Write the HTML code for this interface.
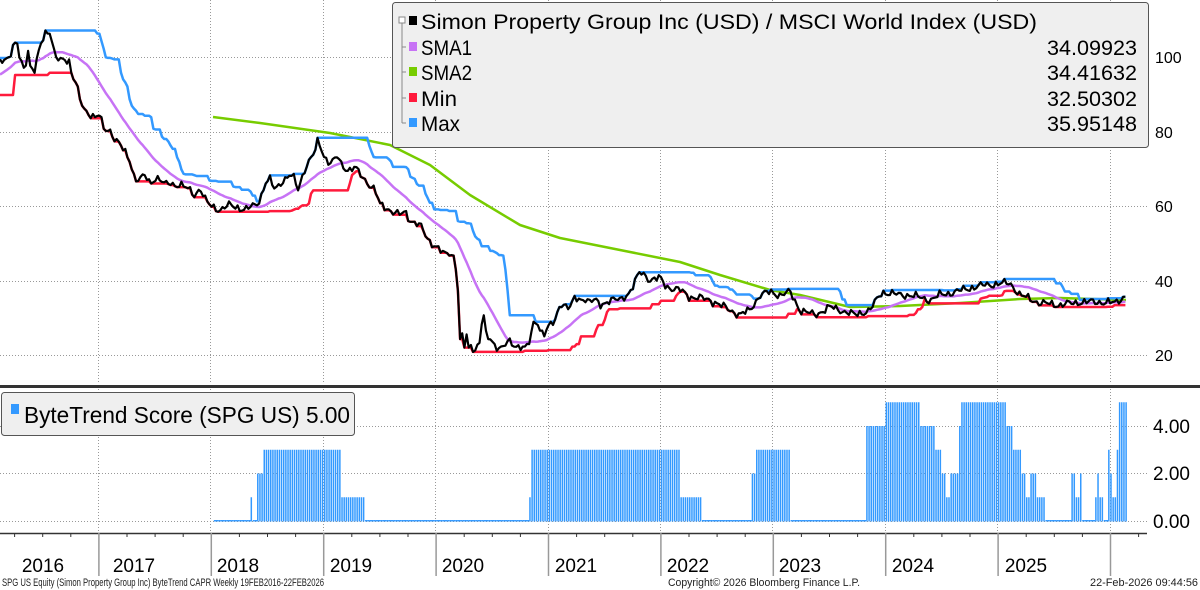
<!DOCTYPE html>
<html><head><meta charset="utf-8">
<style>
html,body{margin:0;padding:0;background:#fff;width:1200px;height:590px;overflow:hidden}
svg{display:block;font-family:"Liberation Sans",sans-serif}
</style></head>
<body>
<svg id="s" width="1200" height="590" viewBox="0 0 1200 590" xmlns="http://www.w3.org/2000/svg">
<g id="grid" stroke="#999" stroke-width="1" stroke-dasharray="1,2"></g>
<g id="bars"></g>
<g id="lines" fill="none" stroke-width="2.5" stroke-linejoin="round"></g>
<rect x="392.5" y="2.5" width="756" height="145" rx="3" fill="#efefef" stroke="#555" stroke-width="1"/>
<path d="M402 20 V123 M402 47 h4 M402 72 h4 M402 98 h4 M402 123 h4" stroke="#888" fill="none"/>
<rect x="399" y="17" width="6" height="6" fill="#fff" stroke="#888"/>
<rect x="409" y="16" width="8" height="9" fill="#000"/>
<rect x="409" y="42" width="8" height="9" fill="#c773f5"/>
<rect x="409" y="67" width="8" height="9" fill="#77cc00"/>
<rect x="409" y="93" width="8" height="9" fill="#ff1a3c"/>
<rect x="409" y="118" width="8" height="9" fill="#3399ff"/>
<g font-size="21" fill="#000">
<text x="421" y="29" textLength="616" lengthAdjust="spacingAndGlyphs">Simon Property Group Inc (USD) / MSCI World Index (USD)</text>
<text x="421" y="55" textLength="51" lengthAdjust="spacingAndGlyphs">SMA1</text>
<text x="421" y="80" textLength="51" lengthAdjust="spacingAndGlyphs">SMA2</text>
<text x="421" y="106" textLength="36" lengthAdjust="spacingAndGlyphs">Min</text>
<text x="421" y="131" textLength="39" lengthAdjust="spacingAndGlyphs">Max</text>
<text x="1137" y="55" text-anchor="end" textLength="90" lengthAdjust="spacingAndGlyphs">34.09923</text>
<text x="1137" y="80" text-anchor="end" textLength="90" lengthAdjust="spacingAndGlyphs">34.41632</text>
<text x="1137" y="106" text-anchor="end" textLength="90" lengthAdjust="spacingAndGlyphs">32.50302</text>
<text x="1137" y="131" text-anchor="end" textLength="90" lengthAdjust="spacingAndGlyphs">35.95148</text>
</g>
<g font-size="16" fill="#000">
<text x="1155" y="63">100</text>
<text x="1155" y="138">80</text>
<text x="1155" y="212">60</text>
<text x="1155" y="287">40</text>
<text x="1155" y="361">20</text>
</g>
<rect x="0" y="385" width="1200" height="3" fill="#333"/>
<rect x="1.5" y="392.5" width="353" height="43" rx="3" fill="#efefef" stroke="#555"/>
<rect x="11" y="404" width="8" height="10" fill="#3399ff"/>
<text x="24" y="423" font-size="23" textLength="326" lengthAdjust="spacingAndGlyphs">ByteTrend Score (SPG US) 5.00</text>
<g font-size="19" fill="#000">
<text x="1153" y="433">4.00</text>
<text x="1153" y="480">2.00</text>
<text x="1153" y="528">0.00</text>
</g>
<line x1="0" y1="533.5" x2="1147" y2="533.5" stroke="#333" stroke-width="1.5"/>
<g id="xax"></g>
<g font-size="19" fill="#000" text-anchor="middle" id="years"></g>
<g font-size="11" fill="#222">
<text x="2" y="586" textLength="322" lengthAdjust="spacingAndGlyphs">SPG US Equity (Simon Property Group Inc) ByteTrend CAPR Weekly 19FEB2016-22FEB2026</text>
<text x="668" y="586" textLength="192" lengthAdjust="spacingAndGlyphs">Copyright© 2026 Bloomberg Finance L.P.</text>
<text x="1198" y="586" text-anchor="end" textLength="108" lengthAdjust="spacingAndGlyphs">22-Feb-2026 09:44:56</text>
</g>
</svg>
<script>
var NS="http://www.w3.org/2000/svg";
function el(p,t,a){var e=document.createElementNS(NS,t);for(var k in a)e.setAttribute(k,a[k]);p.appendChild(e);return e;}
var grid=document.getElementById('grid');
var gx=[98,210,323,435,548,660,772,885,997,1110];
gx.forEach(function(x){el(grid,'line',{x1:x+.5,y1:0,x2:x+.5,y2:383});el(grid,'line',{x1:x+.5,y1:389,x2:x+.5,y2:533});});
[57,132,206,281,355].forEach(function(y){el(grid,'line',{x1:0,y1:y+.5,x2:1147,y2:y+.5});});
[426,473,521].forEach(function(y){el(grid,'line',{x1:0,y1:y+.5,x2:1147,y2:y+.5});});
var xax=document.getElementById('xax');
for(var i=-1;i<44;i++){var x=-14+i*28.1;if(x<0||x>1145)continue;
 var isY=(i%4===0);
 if(isY) el(xax,'line',{x1:x+.5,y1:533,x2:x+.5,y2:576,stroke:'#999','stroke-width':1.5});
 else el(xax,'line',{x1:x+.5,y1:533,x2:x+.5,y2:537,stroke:'#333','stroke-width':1});}
var yrs=document.getElementById('years');
var lx=[43,134,238,351,463,576,688,800,913,1026];
for(var k=0;k<10;k++){var t=el(yrs,'text',{x:lx[k],y:572});t.textContent=2016+k;}
var P=[[0,58],[5,60],[10,57],[15,44],[18,43],[20,60],[25,68],[28,50],[30,68],[35,72],[38,55],[40,45],[45,32],[50,32],[52,42],[55,58],[60,60],[65,58],[70,62],[72,78],[75,80],[80,100],[85,110],[95,118],[100,115],[103,128],[110,130],[115,140],[120,145],[125,152],[130,160],[135,180],[140,180],[145,175],[150,183],[155,178],[160,180],[165,185],[170,182],[175,185],[180,185],[190,190],[195,195],[200,188],[205,200],[210,205],[220,210],[230,205],[240,208],[245,210],[255,205],[260,200],[265,183],[270,180],[275,190],[280,183],[290,175],[295,180],[298,190],[302,177],[305,168],[310,160],[313,155],[315,152],[318,140],[320,145],[325,158],[330,163],[335,160],[338,155],[340,163],[345,168],[350,170],[355,167],[358,172],[365,180],[375,190],[380,205],[390,210],[400,215],[405,212],[410,220],[420,225],[425,235],[430,242],[435,245],[440,250],[445,255],[450,253],[455,258],[458,290],[460,340],[462,335],[464,350],[466,330],[468,352],[470,345],[475,350],[480,340],[483,310],[486,335],[490,340],[495,345],[500,348],[505,345],[510,342],[515,347],[520,345],[525,348],[530,342],[533,325],[537,320],[540,330],[545,333],[550,325],[555,322],[560,303],[565,305],[570,308],[575,298],[580,300],[585,298],[590,302],[595,300],[600,305],[610,300],[620,300],[630,292],[640,272],[645,275],[650,280],[660,278],[665,285],[670,288],[680,290],[690,297],[700,298],[710,300],[720,305],[730,310],[740,315],[750,310],[760,295],[770,292],[780,295],[790,292],[800,310],[815,315],[830,307],[840,310],[855,315],[870,310],[882,292],[900,295],[910,295],[930,300],[940,295],[955,292],[970,288],[985,285],[1010,283],[1020,295],[1040,303],[1060,305],[1080,302],[1100,302],[1115,303],[1125,296]];
function interp(x){for(var i=1;i<P.length;i++){if(x<=P[i][0]){var a=P[i-1],b=P[i];return a[1]+(b[1]-a[1])*(x-a[0])/(b[0]-a[0]);}}return P[P.length-1][1];}
var dx=2.16,N=Math.floor(1126/dx)+1,xs=[],ys=[];
for(var i=0;i<N;i++){var x=i*dx;var n=Math.sin(i*1.7)*2.2+Math.sin(i*0.63+1)*1.6+Math.sin(i*2.9)*1.2;xs.push(x);ys.push(interp(x)+n);}
var W=24,pad=[];for(var i=0;i<W;i++)pad.push(i<8?95:(i%2?75:58));
var all=pad.concat(ys);
var mx=[],mn=[],s1=[];
for(var i=0;i<N;i++){var j=i+W;var lo=1e9,hi=-1e9,sum=0;for(var k=j-W+1;k<=j;k++){lo=Math.min(lo,all[k]);hi=Math.max(hi,all[k]);sum+=all[k];}
 mx.push(lo);mn.push(hi);s1.push(sum/W);}
function pts(arr){return arr.map(function(y,i){return xs[i].toFixed(1)+','+y.toFixed(1);}).join(' ');}
var L=document.getElementById('lines');
var G=[[213,117],[260,123],[330,133],[390,145],[430,165],[470,195],[520,225],[560,238],[620,250],[680,262],[720,275],[770,290],[800,295],[850,307],[900,306],[960,303],[1020,299],[1060,298],[1126,300]];
var gp=G.map(function(p){return p.join(',');}).join(' ');
el(L,'polyline',{points:gp,stroke:'#77cc00'});
el(L,'polyline',{points:pts(s1),stroke:'#c773f5'});
el(L,'polyline',{points:pts(mn),stroke:'#ff1a3c'});
el(L,'polyline',{points:pts(mx),stroke:'#3399ff'});
el(L,'polyline',{points:pts(ys),stroke:'#000','stroke-width':2.2});
var R=[[213,249,0],[249,251,1],[251,256,0],[256,262,2],[262,340,3],[340,363,1],[363,528,0],[528,531,1],[531,545,3],[545,680,3],[680,700,1],[700,750,0],[750,755,2],[755,790,3],[790,866,0],[866,885,4],[885,920,5],[920,935,4],[935,940,3],[940,945,2],[945,950,1],[950,958,2],[958,960,4],[960,1005,5],[1005,1012,4],[1012,1020,3],[1020,1025,2],[1025,1030,1],[1030,1035,2],[1035,1045,1],[1045,1070,0],[1070,1074,2],[1074,1078,1],[1078,1082,2],[1082,1093,0],[1093,1097,1],[1097,1099,2],[1099,1103,1],[1103,1107,0],[1107,1109,3],[1109,1111,2],[1111,1115,1],[1115,1118,3],[1118,1126,5]];
function bv(x){for(var i=0;i<R.length;i++)if(x>=R[i][0]&&x<R[i][1])return R[i][2];return -1;}
var B=document.getElementById('bars');
for(var i=0;i<N;i++){var x=xs[i];var v=bv(x);if(v<0)continue;
 if(v===0){el(B,'rect',{x:x,y:520,width:2.16,height:1.5,fill:'#3399ff'});continue;}
 var h=v*23.75;el(B,'rect',{x:x,y:521-h,width:1.5,height:h+0.5,fill:'#3399ff'});}
</script>
</body></html>
